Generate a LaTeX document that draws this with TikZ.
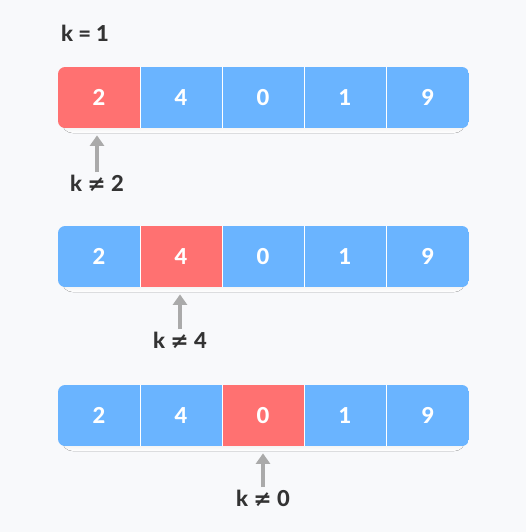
\documentclass[tikz,border=0pt]{standalone}
\usepackage{fontspec}
\setmainfont{Lato}[BoldFont={Lato Heavy}]
\newfontfamily\symfont{DejaVu Sans}[BoldFont={DejaVu Sans Bold}]
\definecolor{cellblue}{HTML}{6AB4FF}
\definecolor{cellred}{HTML}{FF7171}
\definecolor{arrowgray}{HTML}{AAAAAA}
\definecolor{textdark}{HTML}{333333}
\definecolor{bgpage}{HTML}{F8F9FB}
\definecolor{shade}{HTML}{EEF2FA}
\newcommand{\neqk}[1]{k {\symfont≠} #1}
\tikzset{
  cell/.style={minimum width=82*0.02cm, minimum height=61*0.02cm,
    text=white, font=\fontsize{12.5}{14}\selectfont\bfseries, inner sep=0pt},
  blue cell/.style={cell, fill=cellblue},
  red cell/.style={cell, fill=cellred},
  sep/.style={white, line width=0.8pt},
  label/.style={text=textdark, font=\fontsize{12.5}{14}\selectfont\bfseries},
  pointer/.style={arrowgray, line width=2.2pt, -{Triangle[width=8pt,length=6pt]}}
}
\usetikzlibrary{arrows.meta}
\begin{document}
\begin{tikzpicture}[x=0.02cm, y=-0.02cm]
    \fill[bgpage] (0,0) rectangle (526,532);
    \useasboundingbox (0,0) rectangle (526,532);
    \node[label] (kval) at (85,33) {k = 1};
    % first pass: k compared with 2
    \fill[shade, rounded corners=6pt] (62,70) rectangle (465,133);
    \begin{scope}
      \clip[rounded corners=4pt] (58,67) rectangle (469,128);
      \node[red cell] (a1) at (99,97.5) {2};
      \node[blue cell] (a2) at (181,97.5) {4};
      \node[blue cell] (a3) at (263,97.5) {0};
      \node[blue cell] (a4) at (345,97.5) {1};
      \node[blue cell] (a5) at (428,97.5) {9};
    \end{scope}
    \node[label] (ka) at (97,183) {\neqk{2}};
    % second pass: k compared with 4
    \fill[shade, rounded corners=6pt] (62,229) rectangle (465,292);
    \begin{scope}
      \clip[rounded corners=4pt] (58,226) rectangle (469,287);
      \node[blue cell] (b1) at (99,256.5) {2};
      \node[red cell] (b2) at (181,256.5) {4};
      \node[blue cell] (b3) at (263,256.5) {0};
      \node[blue cell] (b4) at (345,256.5) {1};
      \node[blue cell] (b5) at (428,256.5) {9};
    \end{scope}
    \node[label] (kb) at (180,340) {\neqk{4}};
    % third pass: k compared with 0
    \fill[shade, rounded corners=6pt] (62,388) rectangle (465,451);
    \begin{scope}
      \clip[rounded corners=4pt] (58,385) rectangle (469,446);
      \node[blue cell] (c1) at (99,415.5) {2};
      \node[blue cell] (c2) at (181,415.5) {4};
      \node[red cell] (c3) at (263,415.5) {0};
      \node[blue cell] (c4) at (345,415.5) {1};
      \node[blue cell] (c5) at (428,415.5) {9};
    \end{scope}
    \node[label] (kc) at (263,498) {\neqk{0}};
    \foreach \r in {a,b,c}
      \foreach \i in {1,...,4}
        \draw[sep] (\r\i.north east) -- (\r\i.south east);
    \draw[pointer] ([yshift=-2pt]ka.north) -- ([yshift=-4pt]ka.north |- a1.south);
    \draw[pointer] ([yshift=-2pt]kb.north) -- ([yshift=-4pt]kb.north |- b2.south);
    \draw[pointer] ([yshift=-2pt]kc.north) -- ([yshift=-4pt]kc.north |- c3.south);
\end{tikzpicture}
\end{document}
